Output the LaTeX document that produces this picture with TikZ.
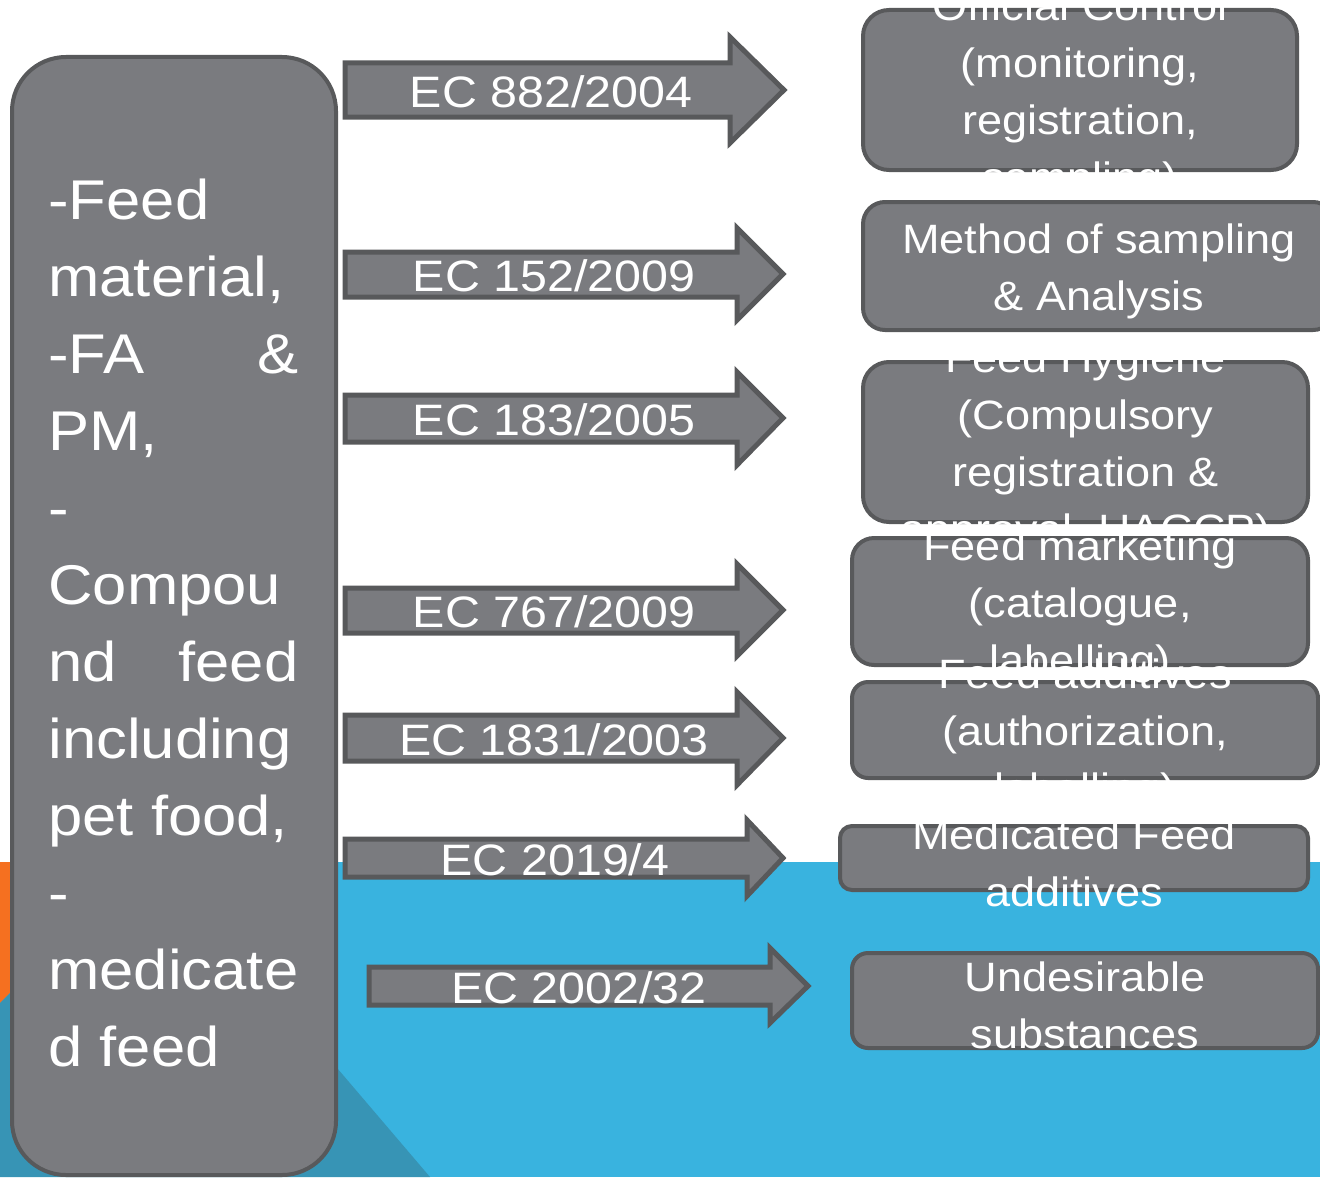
\documentclass[tikz,border=0pt]{standalone}
\usepackage{fontspec}
\setmainfont[FakeStretch=1.1]{Liberation Sans}
\usepackage{tikz}
\usetikzlibrary{fit,positioning}
\definecolor{boxgray}{RGB}{122,123,127}
\definecolor{boxline}{RGB}{88,89,91}
\definecolor{skyblue}{RGB}{57,179,223}
\definecolor{deepblue}{RGB}{55,148,181}
\definecolor{themeorange}{RGB}{245,112,32}

\begin{document}
\begin{tikzpicture}[x=0.5pt, y=-0.5pt,
    regbox/.style={draw=boxline, line width=2pt, fill=boxgray, inner sep=0pt},
    blockarrow/.style={draw=boxline, line width=2.5pt, fill=boxgray, line join=miter},
    eclabel/.style={text=white, inner sep=0pt, font=\fontsize{22}{26}\selectfont},
    boxtext/.style={text=white, align=center, inner sep=0pt, yshift=-2.5pt,
        font=\fontsize{20.5}{28.5}\selectfont}]
    \useasboundingbox (0,0) rectangle (1320,1177);
    \clip (0,0) rectangle (1320,1177);

    % background
    \fill[skyblue] (0,862) rectangle (1320,1177);
    \fill[themeorange] (0,862) -- (141,862) -- (0,1003) -- cycle;
    \fill[deepblue] (0,1003) -- (152,851) -- (430,1177) -- (0,1177) -- cycle;

    % feed categories
    \node[regbox, rounded corners=27pt, fit={(12,57) (336,1175)}] (feedbox) {};
    \node[text=white, anchor=north west, align=left, inner sep=0pt,
          font=\fontsize{28}{38.5}\selectfont] (feedtxt) at (48,179)
        {-Feed\\ material,\\ \makebox[125pt][s]{-FA\hfill\&}\\ PM,\\ -\\ Compou\\
         \makebox[125pt][s]{nd\hfill feed}\\ including\\ pet food,\\ -\\ medicate\\ d feed};

    % regulations
    \draw[blockarrow] (345,63) -- (730,63) -- (730,37) -- (784,90) -- (730,143) -- (730,117) -- (345,117) -- cycle;
    \draw[blockarrow] (345,252) -- (737,252) -- (737,228) -- (783,274) -- (737,320) -- (737,297) -- (345,297) -- cycle;
    \draw[blockarrow] (345,395) -- (737,395) -- (737,372) -- (783,418) -- (737,465) -- (737,442) -- (345,442) -- cycle;
    \draw[blockarrow] (345,588) -- (737,588) -- (737,564) -- (783,610) -- (737,656) -- (737,633) -- (345,633) -- cycle;
    \draw[blockarrow] (345,715) -- (737,715) -- (737,692) -- (783,738) -- (737,785) -- (737,761) -- (345,761) -- cycle;
    \draw[blockarrow] (345,839) -- (747,839) -- (747,820) -- (783,858) -- (747,896) -- (747,877) -- (345,877) -- cycle;
    \draw[blockarrow] (369,967) -- (770,967) -- (770,948) -- (808,986) -- (770,1023) -- (770,1005) -- (369,1005) -- cycle;
    \node[eclabel] (ec882) at (551,92) {EC 882/2004};
    \node[eclabel] (ec152) at (554,276) {EC 152/2009};
    \node[eclabel] (ec183) at (554,420) {EC 183/2005};
    \node[eclabel] (ec767) at (554,612) {EC 767/2009};
    \node[eclabel] (ec1831) at (554,740) {EC 1831/2003};
    \node[eclabel] (ec2019) at (555,860) {EC 2019/4};
    \node[eclabel] (ec2002) at (579,988) {EC 2002/32};

    % areas covered
    \node[regbox, rounded corners=13pt, fit={(863,10) (1297,170)}] (offctrl) {};
    \node[regbox, rounded corners=11pt, fit={(863,202) (1335,330)}] (sampling) {};
    \node[regbox, rounded corners=13pt, fit={(863,362) (1308,522)}] (hygiene) {};
    \node[regbox, rounded corners=11pt, fit={(852,538) (1308,665)}] (marketing) {};
    \node[regbox, rounded corners=8pt, fit={(852,682) (1318,778)}] (additives) {};
    \node[regbox, rounded corners=6pt, fit={(840,826) (1308,890)}] (medicated) {};
    \node[regbox, rounded corners=8pt, fit={(852,953) (1318,1048)}] (undesirable) {};

    \begin{scope}
        \clip (840,0) rectangle (1320,176);
        \node[boxtext] (offctrltxt) at (offctrl) {Official Control\\(monitoring,\\registration,\\sampling)};
    \end{scope}
    \node[boxtext] (samplingtxt) at (sampling) {Method of sampling\\\& Analysis};
    \begin{scope}
        \clip (840,360) rectangle (1320,531);
        \node[boxtext] (hygienetxt) at (hygiene) {Feed Hygiene\\(Compulsory\\registration \&\\approval, HACCP)};
    \end{scope}
    \node[boxtext] (marketingtxt) at (marketing) {Feed marketing\\(catalogue,\\labelling)};
    \begin{scope}
        \clip (840,600) rectangle (1320,783);
        \node[boxtext] (additivestxt) at (additives) {Feed additives\\(authorization,\\labelling)};
    \end{scope}
    \begin{scope}
        \clip (830,823) rectangle (1320,940);
        \node[boxtext] (medicatedtxt) at (medicated) {Medicated Feed\\additives};
    \end{scope}
    \node[boxtext] (undesirabletxt) at (undesirable) {Undesirable\\substances};
\end{tikzpicture}
\end{document}
